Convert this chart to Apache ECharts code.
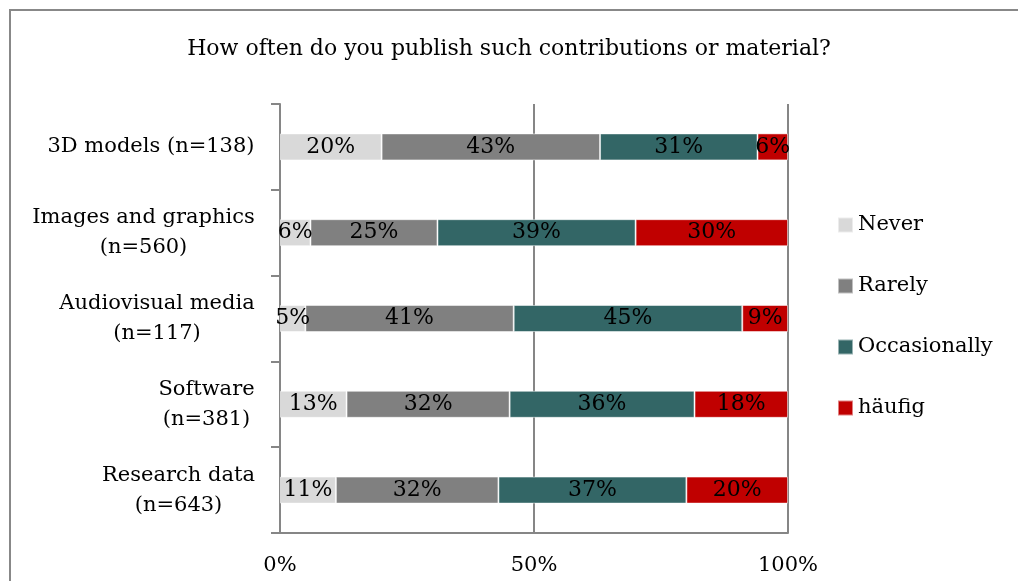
<!DOCTYPE html>
<html>
<head>
<meta charset="utf-8">
<script src="https://cdn.jsdelivr.net/npm/echarts@6/dist/echarts.min.js"></script>
<style>
  html, body { margin: 0; padding: 0; background: #fff; }
  #chart { width: 1018px; height: 581px; }
</style>
</head>
<body>
<div id="chart"></div>
<script>
// Survey: publication frequency per kind of material (shares in %)
const categories = [
  '3D models (n=138)',
  'Images and graphics\n(n=560)',
  'Audiovisual media\n(n=117)',
  'Software\n(n=381)',
  'Research data\n(n=643)'
];
const seriesNames = ['Never', 'Rarely', 'Occasionally', 'häufig'];
const never        = [20, 6, 5, 13.1, 11];
const rarely       = [43, 25, 41, 32.1, 32];
const occasionally = [31, 39, 45, 36.4, 37];
const haeufig      = [6, 30, 9, 18.4, 20];
const xTicks = [0, 50, 100];

const colors = ['#d9d9d9', '#808080', '#336666', '#c00000'];
const FONT = 'DejaVu Serif';
const FS = 21;

// width of the widest line of each category label, so the lines centre on each other
const ctx = document.createElement('canvas').getContext('2d');
ctx.font = FS + 'px "' + FONT + '"';
const rich = {};
categories.forEach((c, i) => {
  const w = Math.max(...c.split('\n').map(s => ctx.measureText(s).width));
  rich['c' + i] = { width: Math.ceil(w), align: 'center', fontFamily: FONT, fontSize: FS, color: '#000', lineHeight: 30 };
});

const chart = echarts.init(document.getElementById('chart'), null, { renderer: 'canvas' });
const values = [never, rarely, occasionally, haeufig];

chart.setOption({
  backgroundColor: '#fff',
  animation: false,
  title: {
    text: 'How often do you publish such contributions or material?',
    left: 'center',
    top: 33,
    textStyle: { fontFamily: FONT, fontSize: 22, fontWeight: 'normal', color: '#000' }
  },
  graphic: [{
    type: 'rect',
    shape: { x: 10, y: 10, width: 1100, height: 700 },
    style: { fill: 'none', stroke: '#888', lineWidth: 2 },
    silent: true
  }],
  legend: {
    orient: 'vertical',
    left: 832,
    top: 209,
    itemWidth: 15,
    itemHeight: 15,
    itemGap: 39,
    icon: 'rect',
    data: seriesNames,
    textStyle: { fontFamily: FONT, fontSize: FS, color: '#000', lineHeight: 22 }
  },
  grid: { left: 280, right: 230, top: 104, bottom: 48, containLabel: false },
  xAxis: {
    type: 'value',
    min: 0, max: 100, interval: 50,
    axisLine: { show: true, lineStyle: { color: '#868686', width: 2 } },
    axisTick: { show: false },
    splitLine: { show: true, lineStyle: { color: '#868686', width: 2 } },
    axisLabel: {
      margin: 22,
      fontFamily: FONT, fontSize: FS, color: '#000',
      formatter: v => (xTicks.includes(v) ? v + '%' : '')
    }
  },
  yAxis: {
    type: 'category',
    inverse: true,
    data: categories,
    axisLine: { show: true, lineStyle: { color: '#868686', width: 2 } },
    axisTick: { show: true, length: 9, lineStyle: { color: '#868686', width: 2 } },
    axisLabel: {
      margin: 25,
      align: 'right',
      formatter: (v, i) => v.split('\n').map(s => '{c' + i + '|' + s + '}').join('\n'),
      rich: rich
    }
  },
  series: seriesNames.map((name, k) => ({
    name: name,
    type: 'bar',
    stack: 'share',
    barWidth: 27,
    data: values[k],
    itemStyle: { color: colors[k], borderColor: 'rgba(255,255,255,0.5)', borderWidth: 1 },
    label: {
      show: true,
      position: 'inside',
      formatter: p => Math.round(p.value) + '%',
      fontFamily: FONT, fontSize: 22, color: '#000'
    }
  }))
});
</script>
</body>
</html>
